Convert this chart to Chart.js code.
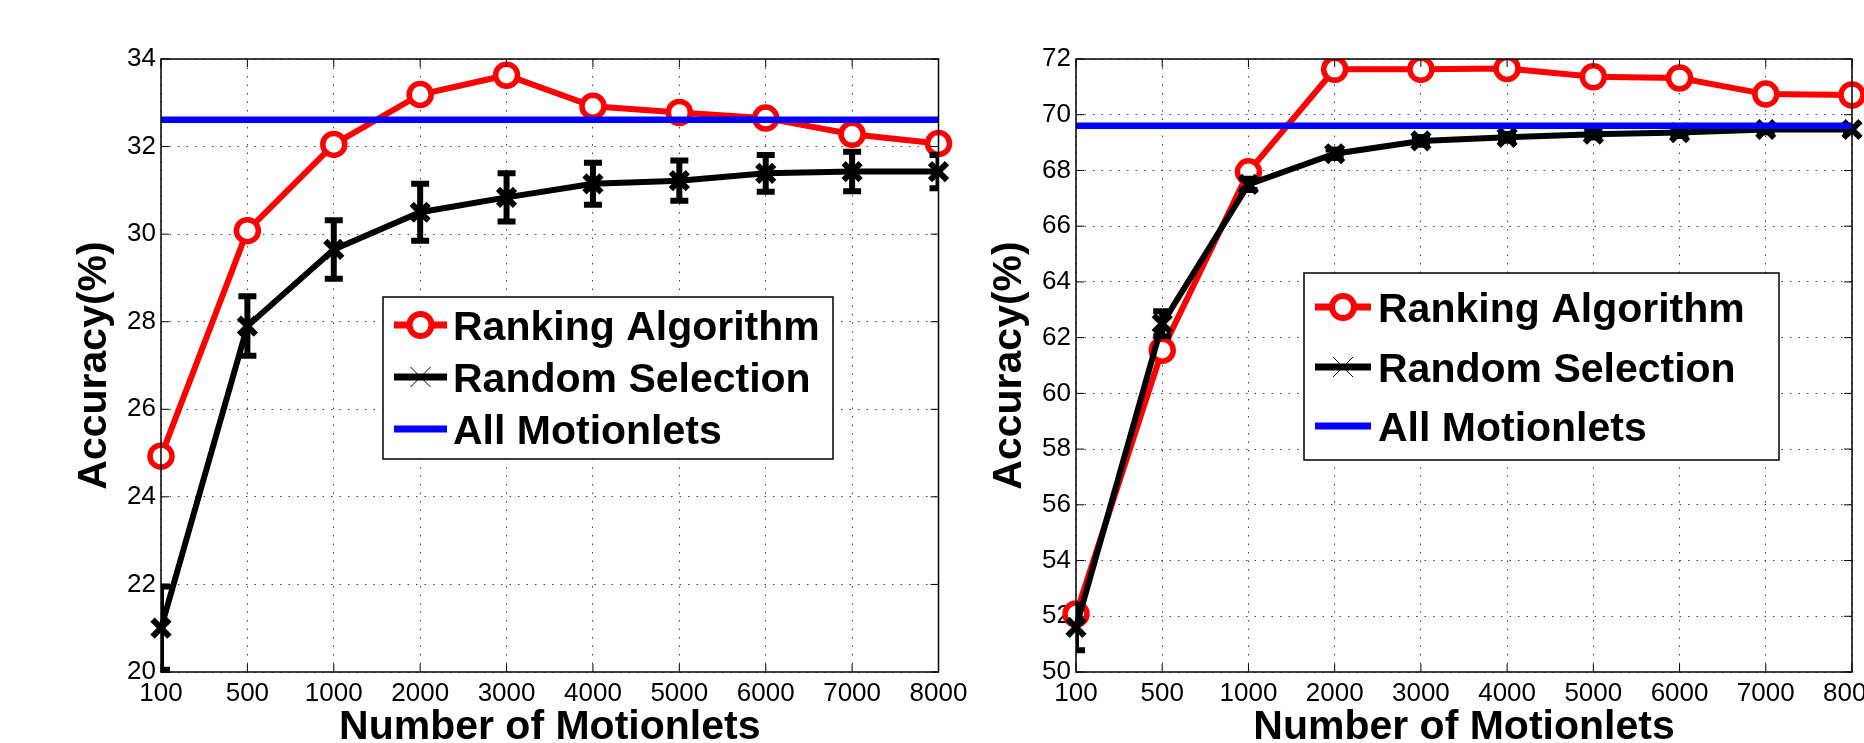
<!DOCTYPE html>
<html>
<head>
<meta charset="utf-8">
<script src="https://cdn.jsdelivr.net/npm/chart.js@4.4.0/dist/chart.umd.min.js"></script>
<style>
  html, body { margin: 0; padding: 0; background: #fff; overflow: hidden; width: 1864px; height: 743px; }
  .panel { position: absolute; top: 0; height: 743px; }
  #leftPanel { left: 0; width: 1000px; }
  #rightPanel { left: 960px; width: 934px; }
</style>
</head>
<body>
<div class="panel" id="leftPanel"><canvas id="accLeft"></canvas></div>
<div class="panel" id="rightPanel"><canvas id="accRight"></canvas></div>
<script>
// x categories (number of motionlets)
const motionlets = ['100', '500', '1000', '2000', '3000', '4000', '5000', '6000', '7000', '8000'];

// left panel
const rankingLeft = [24.93, 30.08, 32.05, 33.19, 33.63, 32.92, 32.78, 32.65, 32.28, 32.07];
const randomLeft = [21.0, 27.9, 29.65, 30.5, 30.84, 31.15, 31.22, 31.39, 31.43, 31.43];
const randomLeftErr = [0.95, 0.68, 0.67, 0.65, 0.55, 0.48, 0.46, 0.42, 0.45, 0.38];
const allMotionletsLeft = 32.61;
const yRangeLeft = [20, 34];

// right panel
const rankingRight = [52.08, 61.55, 67.95, 71.63, 71.63, 71.66, 71.36, 71.32, 70.74, 70.71];
const randomRight = [51.6, 62.5, 67.5, 68.6, 69.06, 69.19, 69.3, 69.36, 69.47, 69.47];
const randomRightErr = [0.82, 0.45, 0.2, 0.15, 0.14, 0.12, 0.12, 0.12, 0.1, 0.1];
const allMotionletsRight = 69.6;
const yRangeRight = [50, 72];

const seriesNames = ['Ranking Algorithm', 'Random Selection', 'All Motionlets'];

Chart.defaults.font.family = "'Liberation Sans', Arial, Helvetica, sans-serif";
Chart.defaults.color = '#000';

// frame, inward ticks, error bars and the boxed legend
const matlabLook = {
  id: 'matlabLook',
  afterDatasetDraw(chart, args) {
    const ds = chart.data.datasets[args.index];
    if (!ds.errors) return;
    const ctx = chart.ctx, area = chart.chartArea, y = chart.scales.y;
    ctx.save();
    ctx.beginPath();
    ctx.rect(area.left, area.top - 30, area.right - area.left, area.bottom - area.top + 60);
    ctx.clip();
    ctx.strokeStyle = '#000';
    ctx.lineWidth = 6;
    args.meta.data.forEach((pt, i) => {
      const v = ds.data[i], e = ds.errors[i];
      const y1 = y.getPixelForValue(v + e), y2 = y.getPixelForValue(v - e);
      ctx.beginPath();
      ctx.moveTo(pt.x, y1); ctx.lineTo(pt.x, y2);
      ctx.moveTo(pt.x - 9, y1); ctx.lineTo(pt.x + 9, y1);
      ctx.moveTo(pt.x - 9, y2); ctx.lineTo(pt.x + 9, y2);
      ctx.stroke();
    });
    ctx.restore();
  },
  afterDraw(chart, args, opts) {
    const ctx = chart.ctx, a = chart.chartArea;
    const xs = chart.scales.x, ys = chart.scales.y;
    ctx.save();
    ctx.strokeStyle = '#000';
    ctx.lineWidth = 1;
    ctx.beginPath();
    xs.ticks.forEach((t, i) => {
      const px = xs.getPixelForTick(i);
      ctx.moveTo(px, a.bottom); ctx.lineTo(px, a.bottom - 8);
      ctx.moveTo(px, a.top); ctx.lineTo(px, a.top + 8);
    });
    ys.ticks.forEach(t => {
      const py = ys.getPixelForValue(t.value);
      ctx.moveTo(a.left, py); ctx.lineTo(a.left + 8, py);
      ctx.moveTo(a.right, py); ctx.lineTo(a.right - 8, py);
    });
    ctx.stroke();
    ctx.lineWidth = 1.5;
    ctx.strokeRect(a.left, a.top, a.right - a.left, a.bottom - a.top);

    // legend
    const L = opts.legend;
    ctx.fillStyle = '#fff';
    ctx.fillRect(L.x, L.y, L.w, L.h);
    ctx.lineWidth = 1.5;
    ctx.strokeRect(L.x, L.y, L.w, L.h);
    chart.data.datasets.forEach((ds, i) => {
      const ry = L.rows[i];
      ctx.strokeStyle = ds.borderColor;
      ctx.lineWidth = 7;
      ctx.beginPath();
      ctx.moveTo(L.lineX1, ry); ctx.lineTo(L.lineX2, ry);
      ctx.stroke();
      const cx = (L.lineX1 + L.lineX2) / 2;
      if (ds.legendMarker === 'circle') {
        ctx.fillStyle = '#fff';
        ctx.lineWidth = 6;
        ctx.beginPath();
        ctx.arc(cx, ry, 11, 0, Math.PI * 2);
        ctx.fill(); ctx.stroke();
      } else if (ds.legendMarker === 'x') {
        ctx.lineWidth = 1;
        ctx.beginPath();
        ctx.moveTo(cx - 10, ry - 10); ctx.lineTo(cx + 10, ry + 10);
        ctx.moveTo(cx - 10, ry + 10); ctx.lineTo(cx + 10, ry - 10);
        ctx.stroke();
      }
      ctx.fillStyle = '#000';
      ctx.font = "bold 41px 'Liberation Sans', Arial, sans-serif";
      ctx.textAlign = 'left';
      ctx.textBaseline = 'alphabetic';
      ctx.fillText(ds.label, L.textX, ry + 15);
    });
    ctx.restore();
  }
};

function makeChart(id, ranking, random, randomErr, allValue, yRange, frame, legend) {
  return new Chart(document.getElementById(id), {
    type: 'line',
    data: {
      labels: motionlets,
      datasets: [{
        label: seriesNames[0],
        data: ranking,
        borderColor: '#ff0000',
        borderWidth: 6,
        pointStyle: 'circle',
        pointRadius: 11,
        pointBorderWidth: 5.5,
        pointBackgroundColor: '#fff',
        legendMarker: 'circle',
        order: 3
      }, {
        label: seriesNames[1],
        data: random,
        errors: randomErr,
        borderColor: '#000',
        borderWidth: 6,
        pointStyle: 'crossRot',
        pointRadius: 12,
        pointBorderWidth: 6,
        legendMarker: 'x',
        order: 2
      }, {
        label: seriesNames[2],
        data: [{x: motionlets[0], y: allValue}, {x: motionlets[motionlets.length - 1], y: allValue}],
        borderColor: '#0000ff',
        borderWidth: 6.5,
        pointRadius: 0,
        legendMarker: 'none',
        order: 1
      }]
    },
    options: {
      responsive: true,
      maintainAspectRatio: false,
      animation: false,
      events: [],
      layout: { padding: { top: 59, right: frame.padRight, bottom: 0, left: 0 } },
      scales: {
        x: {
          type: 'category',
          offset: false,
          grid: { color: '#444', lineWidth: 1, drawTicks: false },
          border: { display: false, dash: [1.5, 7] },
          ticks: { font: { size: 26 }, padding: 6, autoSkip: false, maxRotation: 0 },
          title: {
            display: true, text: 'Number of Motionlets',
            font: { size: 41, weight: 'bold', lineHeight: 1 },
            padding: { top: 0, bottom: -5 }
          },
          afterFit(s) { s.height = 71; s.paddingLeft = 0; s.paddingRight = 0; }
        },
        y: {
          min: yRange[0], max: yRange[1],
          grid: { color: '#444', lineWidth: 1, drawTicks: false },
          border: { display: false, dash: [1.5, 7] },
          ticks: { stepSize: 2, font: { size: 26 }, padding: 5 },
          title: {
            display: true, text: 'Accuracy(%)',
            font: { size: 41, weight: 'bold', lineHeight: 1 },
            padding: { top: frame.titlePad, bottom: 0 }
          },
          afterFit(s) { s.width = frame.yWidth; }
        }
      },
      plugins: {
        legend: { display: false },
        tooltip: { enabled: false },
        matlabLook: { legend: legend }
      }
    },
    plugins: [matlabLook]
  });
}

makeChart('accLeft', rankingLeft, randomLeft, randomLeftErr, allMotionletsLeft, yRangeLeft,
  { yWidth: 161, padRight: 61.5, titlePad: 74 },
  { x: 383, y: 297, w: 450, h: 162, rows: [325, 377, 429], lineX1: 394, lineX2: 447, textX: 453 });

makeChart('accRight', rankingRight, randomRight, randomRightErr, allMotionletsRight, yRangeRight,
  { yWidth: 116, padRight: 42, titlePad: 29 },
  { x: 344, y: 273, w: 475, h: 187, rows: [307, 367, 426], lineX1: 355, lineX2: 411, textX: 418 });
</script>
</body>
</html>
